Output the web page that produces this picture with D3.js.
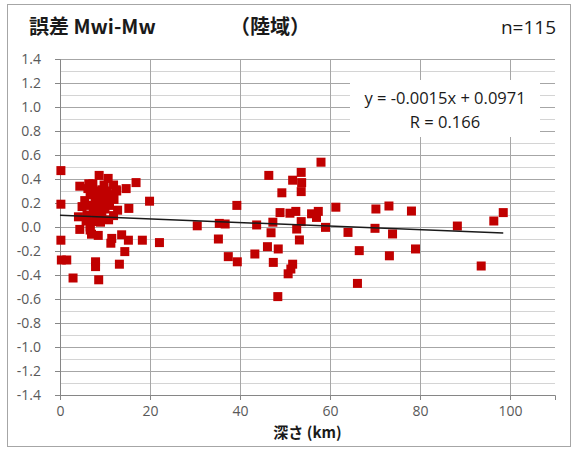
<!DOCTYPE html>
<html><head><meta charset="utf-8">
<script src="https://cdn.jsdelivr.net/npm/d3@7"></script>
<style>
html,body{margin:0;padding:0;background:#fff;}
svg{display:block;}
</style>
</head><body>
<svg id="c" width="578" height="451"></svg>
<script>
// ---- data ----
const depth = [
 0.2,0.2,0.2,0.3,1.5,2.9,4.4,8.7,10.7,7.3,11.9,14.7,16.9,19.9,15.3,11.9,4.4,11.5,13.7,15.2,
 11.3,14.4,18.3,22.1,13.2,7.9,7.9,8.6,6.7,7.0,8.5,9.3,6.7,10.1,7.8,4.9,6.7,10.4,8.6,4.1,
 6.0,9.3,7.1,6.7,12.6,
 5.5,6.2,7.5,8.2,9.0,9.8,10.5,11.2,12.0,12.5,8.0,9.0,10.0,11.0,7.4,5.8,9.6,12.8,10.8,6.4,
 58.0,46.4,53.6,51.7,53.7,53.6,49.3,39.3,61.3,48.9,51.1,52.4,55.9,57.4,57.0,53.6,47.3,43.7,35.4,36.7,
 30.5,52.6,59.0,46.9,35.2,53.2,46.1,48.5,43.3,37.4,39.4,47.4,51.7,51.3,50.7,48.4,
 64.0,70.2,73.1,78.1,98.5,96.4,70.0,73.9,88.3,66.5,73.2,79.0,93.6,66.1
];
const err = [
 0.47,0.19,-0.11,-0.275,-0.275,-0.425,0.34,0.43,0.405,0.36,0.35,0.32,0.37,0.215,0.155,0.095,-0.02,-0.095,-0.065,-0.11,
 -0.135,-0.205,-0.11,-0.13,-0.31,-0.29,-0.33,-0.44,0.0,-0.06,-0.07,0.31,0.27,0.25,0.24,0.17,0.18,0.21,0.14,0.085,
 0.10,0.11,0.045,-0.025,0.30,
 0.22,0.32,0.30,0.20,0.26,0.35,0.30,0.27,0.23,0.31,0.08,0.04,0.15,0.18,0.13,0.05,0.19,0.14,0.06,0.36,
 0.54,0.43,0.455,0.39,0.37,0.295,0.285,0.18,0.165,0.12,0.115,0.13,0.11,0.13,0.08,0.045,0.04,0.017,0.03,0.025,
 0.01,-0.017,-0.003,-0.048,-0.10,-0.108,-0.164,-0.183,-0.225,-0.247,-0.29,-0.295,-0.31,-0.35,-0.39,-0.58,
 -0.045,0.15,0.175,0.133,0.12,0.05,-0.011,-0.058,0.008,-0.197,-0.24,-0.183,-0.325,-0.47
];
const xTicks = [0,20,40,60,80,100];
const yTicks = [1.4,1.2,1.0,0.8,0.6,0.4,0.2,0.0,-0.2,-0.4,-0.6,-0.8,-1.0,-1.2,-1.4];
const yMinor = [1.3,1.1,0.9,0.7,0.5,0.3,0.1,-0.1,-0.3,-0.5,-0.7,-0.9,-1.1,-1.3];
const slope = -0.0015, intercept = 0.0971;
const titleText = "誤差 Mwi-Mw";
const regionText = "（陸域）";
const nText = "n=115";
const eqText = "y = -0.0015x + 0.0971";
const rText = "R = 0.166";
const xTitle = "深さ (km)";

// ---- drawing ----
const svg = d3.select("#c");
const L=60, R=555, T=59, B=395;
const x = d3.scaleLinear().domain([0,110]).range([L,R]);
const y = d3.scaleLinear().domain([-1.4,1.4]).range([B,T]);
const font = "'Open Sans','Liberation Sans',sans-serif";
const cjk = "'Noto Sans CJK JP','Noto Sans',sans-serif";

svg.append("rect").attr("x",7.5).attr("y",4.5).attr("width",563).attr("height",442)
  .attr("fill","#fff").attr("stroke","#a6a6a6").attr("stroke-width",1);

// minor horizontal grid
svg.append("g").attr("transform",`translate(${L},0)`)
  .call(d3.axisRight(y).tickValues(yMinor).tickSize(R-L).tickFormat(""))
  .call(g=>g.select(".domain").remove())
  .call(g=>g.selectAll("line").attr("stroke","#d4d4d4"));
// major horizontal grid
svg.append("g").attr("transform",`translate(${L},0)`)
  .call(d3.axisRight(y).tickValues(yTicks).tickSize(R-L).tickFormat(""))
  .call(g=>g.select(".domain").remove())
  .call(g=>g.selectAll("line").attr("stroke","#a6a6a6"));
// vertical grid
svg.append("g").attr("transform",`translate(0,${B})`)
  .call(d3.axisTop(x).tickValues(xTicks.slice(1)).tickSize(B-T).tickFormat(""))
  .call(g=>g.select(".domain").remove())
  .call(g=>g.selectAll("line").attr("stroke","#a6a6a6"));

// axes
const yAx = svg.append("g").attr("transform",`translate(${L},0)`)
  .call(d3.axisLeft(y).tickValues(yTicks).tickSize(5).tickPadding(14).tickFormat(d=>d.toFixed(1)));
const xAx = svg.append("g").attr("transform",`translate(0,${B})`)
  .call(d3.axisBottom(x).tickValues(xTicks).tickSize(5).tickPadding(6).tickFormat(d=>String(d)));
[yAx,xAx].forEach(g=>{
  g.select(".domain").attr("stroke","#868686");
  g.selectAll(".tick line").attr("stroke","#868686");
  g.selectAll("text").attr("fill","#595959").style("font-family",font).style("font-size","14px");
});
yAx.selectAll(".tick text").attr("text-anchor","end");

// points
svg.append("g").selectAll("rect").data(depth.map((d,i)=>[d,err[i]])).join("rect")
  .attr("x",d=>x(d[0])-4.5).attr("y",d=>y(d[1])-4.5)
  .attr("width",9).attr("height",9).attr("fill","#c00000");

// trend line
const xMax = d3.max(depth);
svg.append("line")
  .attr("x1",x(0)).attr("y1",y(intercept))
  .attr("x2",x(xMax)).attr("y2",y(intercept+slope*xMax))
  .attr("stroke","#1a1a1a").attr("stroke-width",1.5);

// equation box
svg.append("rect").attr("x",350).attr("y",80).attr("width",190).attr("height",57).attr("fill","#fff");
svg.append("text").attr("x",445).attr("y",104).attr("text-anchor","middle")
  .style("font-family",font).style("font-size","16.5px").attr("fill","#1a1a1a").text(eqText);
svg.append("text").attr("x",445).attr("y",128).attr("text-anchor","middle")
  .style("font-family",font).style("font-size","16.5px").attr("fill","#1a1a1a").text(rText);

// titles
svg.append("text").attr("x",29).attr("y",34).style("font-family",cjk).style("font-weight","bold")
  .style("font-size","20px").attr("fill","#1a1a1a").text(titleText);
svg.append("text").attr("x",230).attr("y",34).style("font-family",cjk).style("font-weight","bold")
  .style("font-size","20px").attr("fill","#1a1a1a").text(regionText);
svg.append("text").attr("x",556).attr("y",34).attr("text-anchor","end").style("font-family",font)
  .style("font-size","19px").attr("fill","#1a1a1a").text(nText);
svg.append("text").attr("x",(L+R)/2).attr("y",438).attr("text-anchor","middle").style("font-family",cjk)
  .style("font-weight","bold").style("font-size","15px").attr("fill","#1a1a1a").text(xTitle);
</script>
</body></html>
